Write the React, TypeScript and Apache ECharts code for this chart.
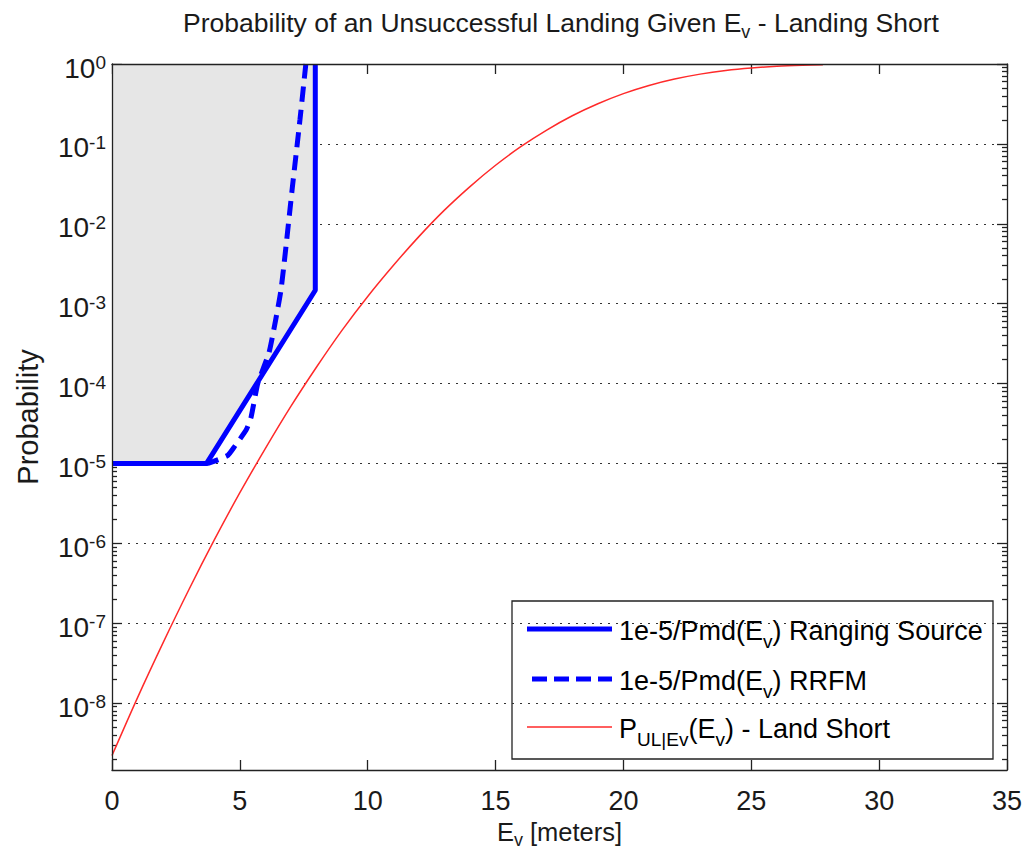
import React, { useEffect, useRef } from "react";
import * as echarts from "echarts";

// ---------- data ----------
const xTicks = [0, 5, 10, 15, 20, 25, 30, 35];
const yMajorTicks = [1e-8, 1e-7, 1e-6, 1e-5, 1e-4, 1e-3, 1e-2, 1e-1, 1];
const yMinorMultipliers = [2, 3, 4, 5, 6, 7, 8, 9];

// 1e-5/Pmd(Ev) Ranging Source (solid)
const rangingX = [0, 3.7, 7.95, 7.95];
const rangingY = [1e-5, 1e-5, 1.47e-3, 1];

// 1e-5/Pmd(Ev) RRFM (dashed)
const rrfmX = [0, 3.7, 3.95, 4.53, 4.79, 5.25, 5.44, 5.7, 6.15, 6.61, 7.05, 7.35, 7.58];
const rrfmY = [1e-5, 1e-5, 1.05e-5, 1.26e-5, 1.62e-5, 2.63e-5, 3.8e-5, 1.0e-4, 2.5e-4, 1.5e-3, 2.8e-2, 0.2, 1];

// P_UL|Ev(Ev) - Land Short (red)
const landX = [0, 1, 2, 3, 4, 5, 6, 7, 8, 9, 10, 11, 12, 13, 14, 15, 16, 17, 18, 19, 20, 21, 22, 23, 24, 25, 26, 27, 27.8];
const landY = [
  2.2e-9, 1.17e-8, 5.7e-8, 2.6e-7, 1.1e-6, 4.3e-6, 1.54e-5, 5.2e-5, 1.61e-4, 4.66e-4,
  1.23e-3, 3.0e-3, 6.9e-3, 1.48e-2, 2.92e-2, 5.4e-2, 9.3e-2, 0.149, 0.225, 0.318,
  0.426, 0.539, 0.648, 0.747, 0.829, 0.891, 0.935, 0.964, 0.98,
];

const Y_MIN = 1.45e-9;
const Y_MAX = 1;

const FONT = "'Liberation Sans', Arial, Helvetica, sans-serif";
const TXT = "#1a1a1a";
const BLUE = "#0000ff";
const RED = "#ff2a2a";

const zip = (xs: number[], ys: number[]) => xs.map((x, i) => [x, ys[i]]);

export default function App() {
  const ref = useRef<HTMLDivElement>(null);
  useEffect(() => {
    if (!ref.current) return;
    const chart = echarts.init(ref.current, null, { renderer: "svg" });

    const minorTicks: number[] = [];
    yMajorTicks.forEach((d) => {
      const base = d / 10;
      yMinorMultipliers.forEach((m) => {
        const v = base * m;
        if (v >= Y_MIN && v <= Y_MAX) minorTicks.push(v);
      });
    });

    const grid = { left: 112, right: 23, top: 64, bottom: 82, containLabel: false, outerBoundsMode: "none" };
    const lineStyle = { color: "#222", width: 1.3 };

    const supRich = {
      b: { fontSize: 28, lineHeight: 30, fontFamily: FONT, color: TXT },
      e: { fontSize: 19, lineHeight: 19, verticalAlign: "top", fontFamily: FONT, color: TXT },
    };
    const subRich = (fs: number, sfs: number, lh: number) => ({
      n: { fontSize: fs, lineHeight: lh, fontFamily: FONT, color: TXT, fontWeight: "normal" },
      s: { fontSize: sfs, lineHeight: sfs, verticalAlign: "bottom", fontFamily: FONT, color: TXT, fontWeight: "normal" },
    });

    const baseY = { type: "log", logBase: 10, min: Y_MIN, max: Y_MAX };

    const option: any = {
      animation: false,
      backgroundColor: "#ffffff",
      title: {
        text: "{n|Probability of an Unsuccessful Landing Given E}{s|v}{n| - Landing Short}",
        left: 556,
        top: 0,
        textAlign: "center",
        textStyle: { fontWeight: "normal", rich: subRich(26.5, 18, 36) },
      },
      grid,
      xAxis: [
        {
          type: "value",
          min: 0,
          max: 35,
          interval: 5,
          position: "bottom",
          z: 10,
          axisLine: { show: true, onZero: false, lineStyle },
          axisTick: { show: true, inside: true, length: 10, lineStyle },
          axisLabel: { show: true, margin: 17, fontSize: 27, fontFamily: FONT, color: TXT, customValues: xTicks },
          splitLine: { show: false },
          name: "{n|E}{s|v}{n| [meters]}",
          nameLocation: "middle",
          nameGap: 40,
          nameTextStyle: { rich: subRich(25.5, 18, 34) },
        },
        {
          type: "value",
          min: 0,
          max: 35,
          interval: 5,
          position: "top",
          z: 10,
          axisLine: { show: true, onZero: false, lineStyle },
          axisTick: { show: false },
          axisLabel: { show: false },
          splitLine: { show: false },
        },
        {
          type: "value",
          min: 0,
          max: 35,
          interval: 5,
          position: "top",
          z: 0,
          axisLine: { show: false, onZero: false },
          axisTick: { show: true, inside: true, length: 10, lineStyle },
          axisLabel: { show: false },
          splitLine: { show: false },
        },
      ],
      yAxis: [
        {
          ...baseY,
          position: "left",
          z: 0,
          axisLine: { show: false, onZero: false },
          axisTick: { show: true, inside: true, length: 10, lineStyle, customValues: yMajorTicks },
          axisLabel: {
            show: true,
            margin: 6,
            padding: [8, 0, 0, 0],
            customValues: yMajorTicks,
            formatter: (v: number) => `{b|10}{e|${Math.round(Math.log10(v))}}`,
            rich: supRich,
          },
          splitLine: { show: true, lineStyle: { color: "#333", width: 1, type: [2, 6] } },
          name: "Probability",
          nameLocation: "middle",
          nameGap: 70,
          nameTextStyle: { fontSize: 29, fontFamily: FONT, color: TXT },
        },
        {
          ...baseY,
          position: "left",
          z: 0,
          axisLine: { show: false, onZero: false },
          axisTick: { show: true, inside: true, length: 5, lineStyle, customValues: minorTicks },
          axisLabel: { show: false },
          splitLine: { show: false },
        },
        {
          ...baseY,
          position: "right",
          z: 10,
          axisLine: { show: true, onZero: false, lineStyle },
          axisTick: { show: true, inside: true, length: 10, lineStyle, customValues: yMajorTicks },
          axisLabel: { show: false },
          splitLine: { show: false },
        },
        {
          ...baseY,
          position: "right",
          z: 10,
          axisLine: { show: false, onZero: false },
          axisTick: { show: true, inside: true, length: 5, lineStyle, customValues: minorTicks },
          axisLabel: { show: false },
          splitLine: { show: false },
        },
        {
          ...baseY,
          position: "left",
          z: 10,
          axisLine: { show: true, onZero: false, lineStyle },
          axisTick: { show: false },
          axisLabel: { show: false },
          splitLine: { show: false },
        },
      ],
      series: [
        {
          name: "region",
          type: "line",
          data: zip(rangingX, rangingY),
          symbol: "none",
          lineStyle: { width: 0, opacity: 0 },
          areaStyle: { color: "#e6e6e6", opacity: 1, origin: "end" },
          z: 1,
          silent: true,
        },
        {
          name: "1e-5/Pmd(Ev) RRFM",
          type: "line",
          data: zip(rrfmX, rrfmY),
          symbol: "none",
          smooth: 0.15,
          lineStyle: { color: BLUE, width: 5, type: [15, 8] },
          z: 3,
        },
        {
          name: "1e-5/Pmd(Ev) Ranging Source",
          type: "line",
          data: zip(rangingX, rangingY),
          symbol: "none",
          lineStyle: { color: BLUE, width: 5 },
          z: 4,
        },
        {
          name: "P_UL|Ev(Ev) - Land Short",
          type: "line",
          data: zip(landX, landY),
          symbol: "none",
          smooth: 0.3,
          lineStyle: { color: RED, width: 1.5 },
          z: 3,
        },
      ],
      graphic: [
        {
          type: "group",
          z: 100,
          children: [
            {
              type: "rect",
              shape: { x: 512, y: 601, width: 481, height: 158 },
              style: { fill: "#ffffff", stroke: "#222", lineWidth: 1.3 },
            },
            {
              type: "line",
              shape: { x1: 527, y1: 629, x2: 612, y2: 629 },
              style: { stroke: BLUE, lineWidth: 5 },
            },
            {
              type: "line",
              shape: { x1: 532, y1: 679, x2: 612, y2: 679 },
              style: { stroke: BLUE, lineWidth: 5, lineDash: [15, 7] },
            },
            {
              type: "line",
              shape: { x1: 527, y1: 727, x2: 612, y2: 727 },
              style: { stroke: RED, lineWidth: 1.5 },
            },
            {
              type: "text",
              x: 619,
              y: 631,
              style: {
                text: "{n|1e-5/Pmd(E}{s|v}{n|) Ranging Source}",
                verticalAlign: "middle",
                rich: subRich(27, 19, 40),
              },
            },
            {
              type: "text",
              x: 619,
              y: 681,
              style: {
                text: "{n|1e-5/Pmd(E}{s|v}{n|) RRFM}",
                verticalAlign: "middle",
                rich: subRich(27, 19, 40),
              },
            },
            {
              type: "text",
              x: 619,
              y: 729,
              style: {
                text: "{n|P}{s|UL|Ev}{n|(E}{s|v}{n|) - Land Short}",
                verticalAlign: "middle",
                rich: subRich(27, 19, 40),
              },
            },
          ],
        },
      ],
    };

    chart.setOption(option);
    return () => chart.dispose();
  }, []);

  return (
    <div
      ref={ref}
      style={{ position: "fixed", left: 0, top: 0, width: 1030, height: 852, background: "#fff" }}
    />
  );
}
